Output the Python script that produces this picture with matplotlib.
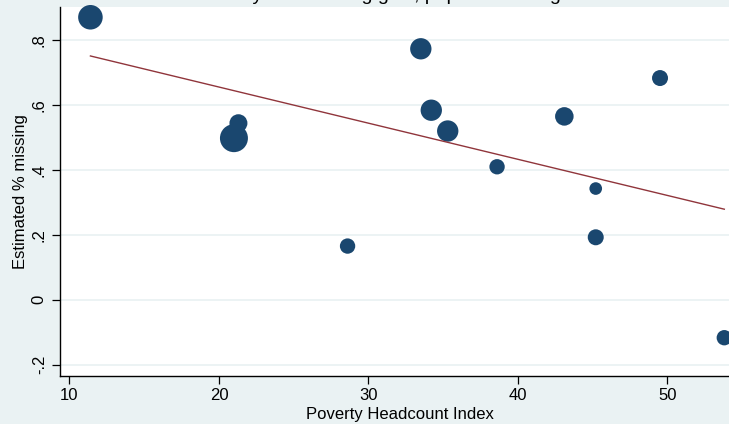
import numpy as np
import matplotlib.pyplot as plt

# district level values
poverty = [11.4, 33.5, 49.5, 21.3, 21.0, 34.2, 35.3, 43.1, 38.6, 45.2, 45.2, 28.6, 53.8]
missing = [0.869, 0.772, 0.682, 0.543, 0.497, 0.583, 0.519, 0.564, 0.409, 0.342, 0.192, 0.165, -0.117]
weights = [151, 114, 64, 81, 196, 114, 114, 86, 59, 40, 64, 59, 59]

# linear fit (intercept, slope) as drawn in the chart
fit_coef = [0.8767, -0.01112]

x_ticks = [10, 20, 30, 40, 50]
y_ticks = [-0.2, 0, 0.2, 0.4, 0.6, 0.8]
y_ticklabels = ['-.2', '0', '.2', '.4', '.6', '.8']

bg = '#EAF2F3'
navy = '#1A476F'
maroon = '#90353B'

plt.rcParams['font.family'] = ['Liberation Sans', 'DejaVu Sans']

fig = plt.figure(figsize=(7.29, 4.24), dpi=100, facecolor=bg)
ax = fig.add_axes([60 / 729, 48 / 424, 680 / 729, 369 / 424])
ax.set_facecolor('white')

# marker area proportional to weight
sizes = np.array(weights) * 2.07
ax.scatter(poverty, missing, s=sizes, color=navy, edgecolors='none', zorder=3, clip_on=False)

fit_x = np.array([min(poverty), max(poverty)])
fit_y = fit_coef[0] + fit_coef[1] * fit_x
ax.plot(fit_x, fit_y, color=maroon, linewidth=1.0, zorder=4)

ax.set_xlim(9.365, 54.85)
ax.set_ylim(-0.2348, 0.9006)
ax.set_xticks(x_ticks)
ax.set_yticks(y_ticks)
ax.set_yticklabels(y_ticklabels, rotation=90, va='center')

ax.yaxis.grid(True, color=bg, linewidth=1.3)
ax.set_axisbelow(True)

for side in ['top', 'right']:
    ax.spines[side].set_visible(False)
for side in ['left', 'bottom']:
    ax.spines[side].set_linewidth(1.0)
    ax.spines[side].set_color('black')

ax.tick_params(axis='both', direction='out', length=5.5, width=0.9, labelsize=12, colors='black')
ax.tick_params(axis='y', pad=4)
ax.tick_params(axis='x', pad=3)

ax.set_xlabel('Poverty Headcount Index', fontsize=12, labelpad=3)
ax.set_ylabel('Estimated % missing', fontsize=12, labelpad=3)

# title sits mostly above the visible area, only descenders show
fig.text(0.545, 1 + 0.5 / 424, 'Poverty and missing girls, population weighted',
         ha='center', va='baseline', fontsize=14)

plt.savefig('out.png', dpi=100, facecolor=bg)
plt.close()
